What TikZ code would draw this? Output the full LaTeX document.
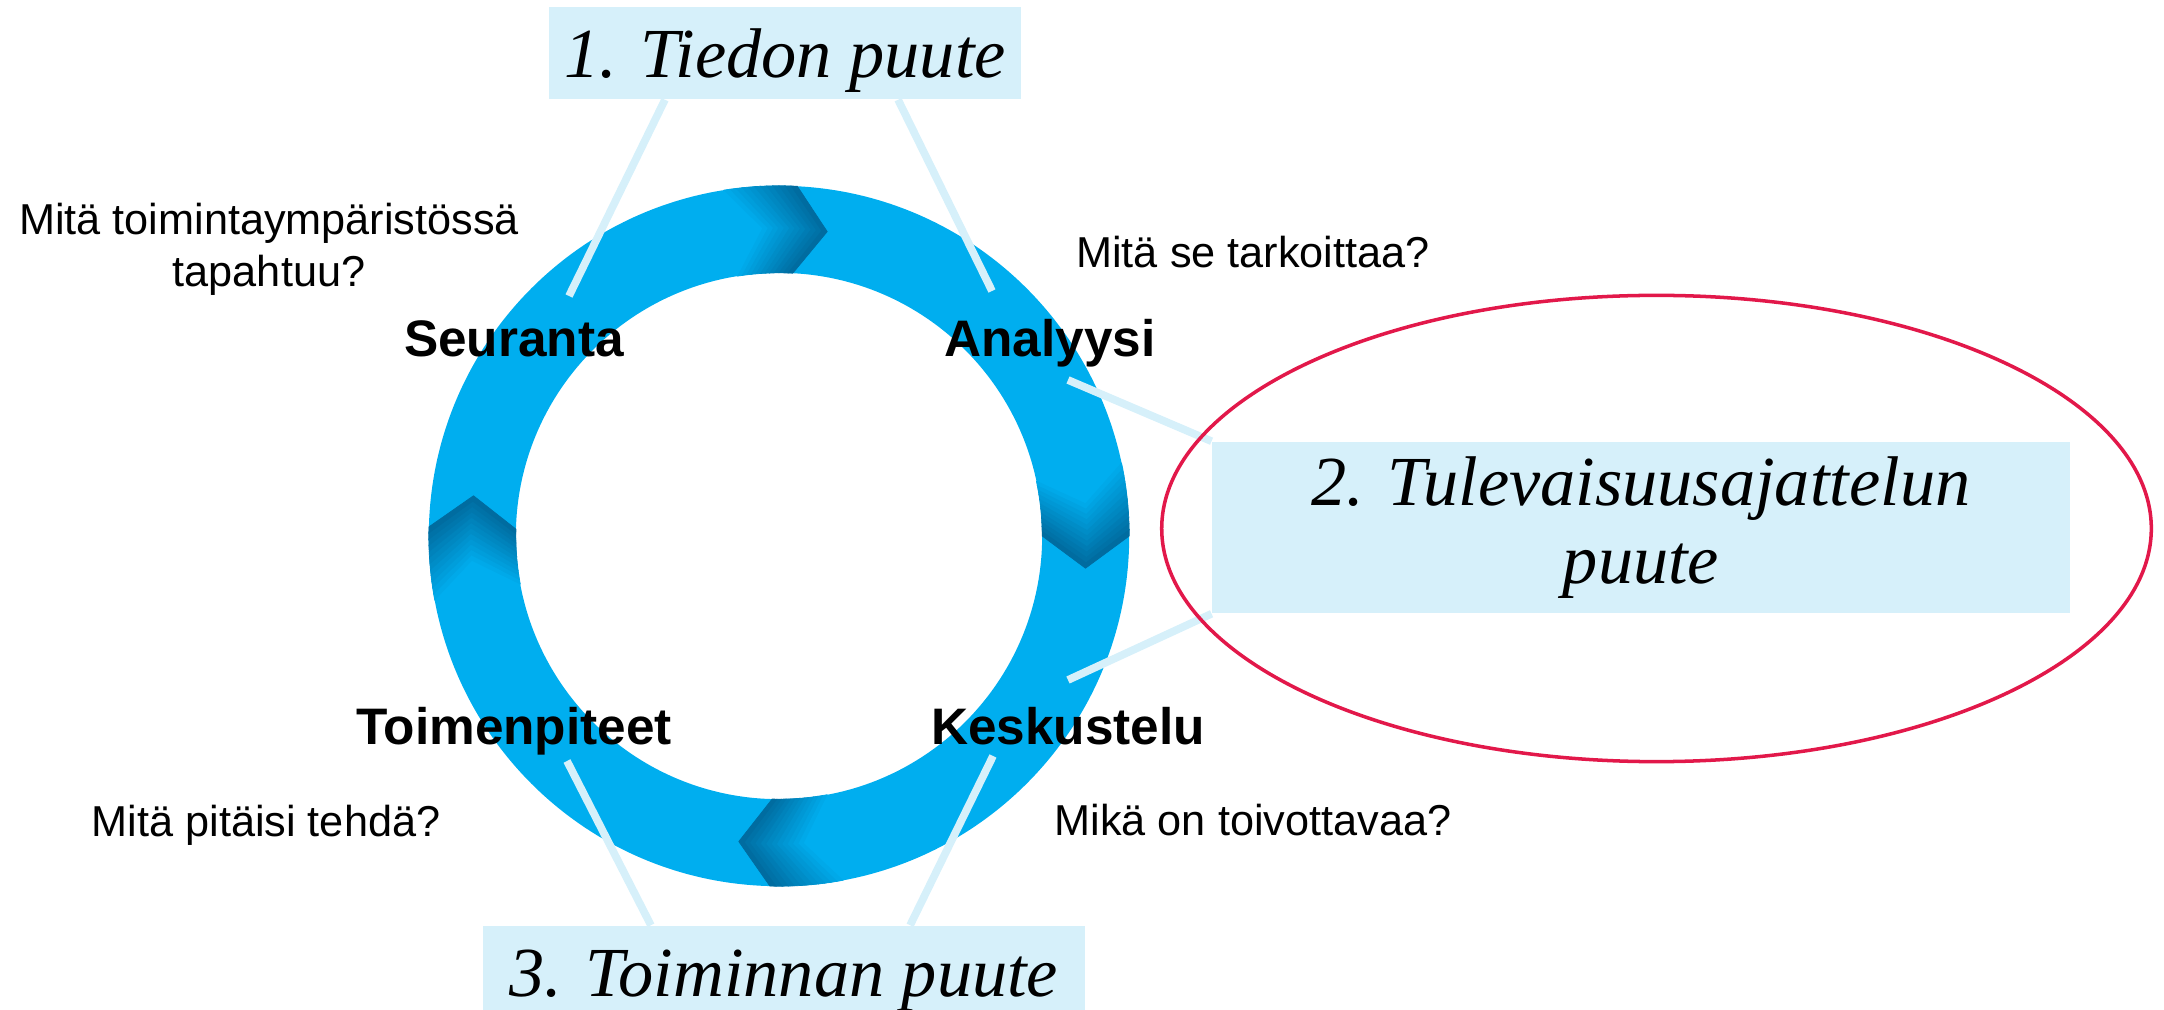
\documentclass[tikz,border=0pt]{standalone}
\usepackage{fontspec}
\setmainfont{Liberation Serif}
\setsansfont{Liberation Sans}
\definecolor{ringblue}{RGB}{0,174,239}
\definecolor{ringdark}{RGB}{0,108,160}
\definecolor{boxblue}{RGB}{214,240,250}
\definecolor{markred}{RGB}{226,24,74}
\tikzset{
  stage/.style={font=\sffamily\bfseries\fontsize{14.6}{17}\selectfont, anchor=base, inner sep=0pt},
  question/.style={font=\sffamily\fontsize{12.3}{14.8}\selectfont, inner sep=0pt},
  gapbox/.style={fill=boxblue, font=\itshape\fontsize{20}{22.2}\selectfont, inner sep=0pt, align=center},
  gapline/.style={gapbox, minimum height=0.92cm, text height=0.6cm, text depth=0.12cm},
  link/.style={draw=boxblue, line width=2.2pt},
}

\begin{document}
\begin{tikzpicture}[x=0.01cm,y=-0.01cm]
  \useasboundingbox (0,0) rectangle (2164,1010);
  \clip (0,0) rectangle (2164,1010); % box 3 runs off the bottom

  % ring ends of the links
  \coordinate (SeurantaTop)    at (569,296);
  \coordinate (AnalyysiTop)    at (992,291);
  \coordinate (AnalyysiSide)   at (1068,380);
  \coordinate (KeskusteluSide) at (1068,680);
  \coordinate (ToimenpiteetLow) at (567,761);
  \coordinate (KeskusteluLow)  at (993,756);

  % the ring, with y pointing up again
  \begin{scope}[shift={(779,536)},x=1cm,y=1cm]
    \fill[ringblue,even odd rule] (0,0) circle (3.5) (0,0) circle (2.63);
    \foreach \e in {87,0,-91.5,-181.5}{% one chevron per quarter
      \foreach \j in {11,10,...,0}{% darker towards the tip
        \pgfmathtruncatemacro{\tone}{100-100*\j/12}
        \pgfmathsetmacro{\back}{\e+\j+1}
        \pgfmathsetmacro{\front}{\e+\j}
        \pgfmathsetmacro{\tip}{\e+\j-6}
        \pgfmathsetmacro{\notch}{\e+\j-5}
        \fill[ringdark!\tone!ringblue, draw=ringdark!\tone!ringblue, line width=0.2pt]
          (\back:3.5) arc[start angle=\back, end angle=\front, radius=3.5]
          -- (\tip:3.08) -- (\front:2.63)
          arc[start angle=\front, end angle=\back, radius=2.63]
          -- (\notch:3.08) -- cycle;
      }
    }
  \end{scope}

  % stages
  \node[stage] (Seuranta)     at (514,357) {Seuranta};
  \node[stage] (Analyysi)     at (1050,357) {Analyysi};
  \node[stage] (Toimenpiteet) at (514,744) {Toimenpiteet};
  \node[stage] (Keskustelu)   at (1068,744) {Keskustelu};

  % questions
  \node[question, align=center] (AskSeuranta) at (269,249) {Mitä toimintaympäristössä\\tapahtuu?};
  \node[question, anchor=base] (AskAnalyysi)     at (1253,268) {Mitä se tarkoittaa?};
  \node[question, anchor=base] (AskToimenpiteet) at (266,836) {Mitä pitäisi tehdä?};
  \node[question, anchor=base] (AskKeskustelu)   at (1253,835) {Mikä on toivottavaa?};

  % the three gaps
  \node[gapline, minimum width=4.72cm] (GapOne) at (785,53) {1. Tiedon puute};
  \node[gapbox, minimum width=8.57cm, minimum height=1.71cm] (GapTwo) at (1641,527.5)
    {2. Tulevaisuusajattelun\\puute};
  \node[gapline, minimum width=6.01cm] (GapThree) at (784,972) {3. Toiminnan puute};

  \draw[link] ([xshift=-1.2cm]GapOne.south) -- (SeurantaTop);
  \draw[link] ([xshift=1.13cm]GapOne.south) -- (AnalyysiTop);
  \draw[link] (GapTwo.north west) -- (AnalyysiSide);
  \draw[link] (GapTwo.south west) -- (KeskusteluSide);
  \draw[link] ([xshift=-1.33cm]GapThree.north) -- (ToimenpiteetLow);
  \draw[link] ([xshift=1.26cm]GapThree.north) -- (KeskusteluLow);

  % highlight round gap 2
  \draw[markred, line width=1pt] (1656.5,528.5) ellipse [x radius=4.945cm, y radius=2.33cm];
\end{tikzpicture}
\end{document}
